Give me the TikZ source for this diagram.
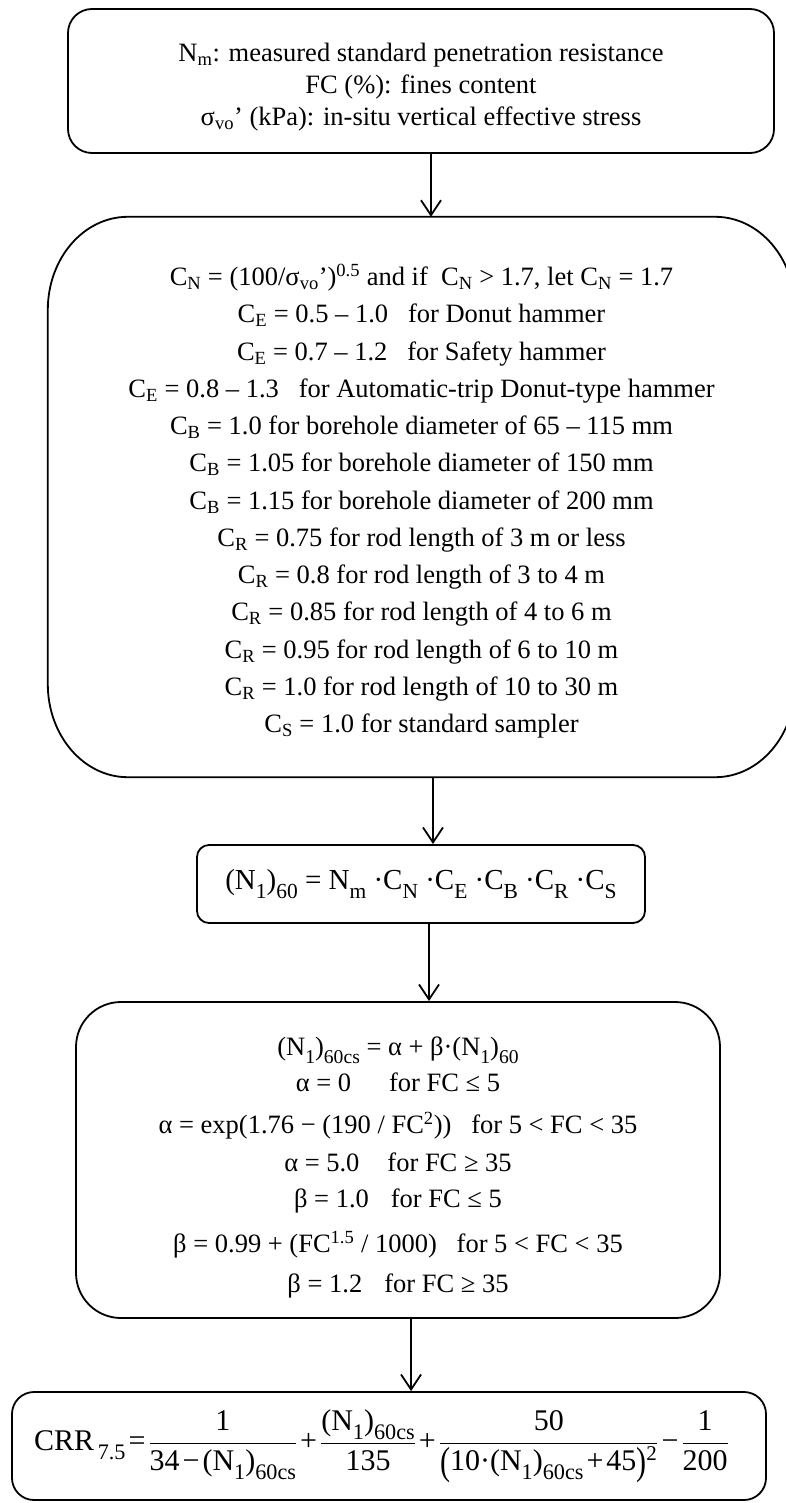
\documentclass[tikz,border=0pt]{standalone}
\usepackage{fix-cm}
\usepackage{fontspec}
\setmainfont{Liberation Serif}
\usepackage{graphicx}
\usetikzlibrary{arrows.meta}
\tikzset{
  box/.style={draw, line width=1.8pt, align=center, inner sep=0pt},
  link/.style={line width=1.8pt, -{Straight Barb[length=15pt,width=20pt,line width=1.8pt]}}
}
\newcommand\sbs[1]{\textsubscript{#1}}
\newcommand\sps[1]{\textsuperscript{#1}}
\newcommand\lsb[1]{\raisebox{-0.3em}{\scalebox{0.74}{#1}}}
\newcommand\fr[2]{\frac{\mbox{#1}}{\mbox{#2}}}
\newcommand\op[1]{\hspace{3pt}#1\hspace{3pt}}
\newcommand\bigpar[1]{\raisebox{-0.12em}{\scalebox{1}[1.3]{#1}}}
\begin{document}
\begin{tikzpicture}[x=1pt,y=-1pt]
\useasboundingbox (0,0) rectangle (786,1503);

\node[box, rounded corners=24pt, minimum width=706pt, minimum height=144pt,
  font=\fontsize{26.5}{32}\selectfont] (b1) at (421,81)
  {\rule{0pt}{31pt}N\sbs{m}: measured standard penetration resistance\\
   FC (\%): fines content\\
   σ\sbs{vo}’ (kPa): in-situ vertical effective stress};

\node[align=center, inner sep=0pt, minimum width=747pt, minimum height=560pt,
  font=\fontsize{26.5}{37.25}\selectfont] (b2) at (421.5,497)
  {\rule{0pt}{30pt}C\sbs{N} = (100/σ\sbs{vo}’)\sps{0.5} and if\ \ C\sbs{N} > 1.7, let C\sbs{N} = 1.7\\
   C\sbs{E} = 0.5 – 1.0\ \ \ for Donut hammer\\
   C\sbs{E} = 0.7 – 1.2\ \ \ for Safety hammer\\
   C\sbs{E} = 0.8 – 1.3\ \ \ for Automatic-trip Donut-type hammer\\
   C\sbs{B} = 1.0 for borehole diameter of 65 – 115 mm\\
   C\sbs{B} = 1.05 for borehole diameter of 150 mm\\
   C\sbs{B} = 1.15 for borehole diameter of 200 mm\\
   C\sbs{R} = 0.75 for rod length of 3 m or less\\
   C\sbs{R} = 0.8 for rod length of 3 to 4 m\\
   C\sbs{R} = 0.85 for rod length of 4 to 6 m\\
   C\sbs{R} = 0.95 for rod length of 6 to 10 m\\
   C\sbs{R} = 1.0 for rod length of 10 to 30 m\\
   C\sbs{S} = 1.0 for standard sampler};
\draw[line width=1.8pt]
  ([xshift=80pt]b2.north west) -- ([xshift=-80pt]b2.north east)
  arc[start angle=90, end angle=0, x radius=80pt, y radius=93pt]
  -- ([yshift=93pt]b2.south east)
  arc[start angle=0, end angle=-90, x radius=80pt, y radius=93pt]
  -- ([xshift=80pt]b2.south west)
  arc[start angle=270, end angle=180, x radius=80pt, y radius=93pt]
  -- ([yshift=-93pt]b2.north west)
  arc[start angle=180, end angle=90, x radius=80pt, y radius=93pt]
  -- cycle;

\node[box, rounded corners=12pt, minimum width=448pt, minimum height=78pt,
  font=\fontsize{29}{32}\selectfont] (b3) at (421,884)
  {(N\lsb{1})\lsb{60} = N\lsb{m} ·C\lsb{N} ·C\lsb{E} ·C\lsb{B} ·C\lsb{R} ·C\lsb{S}};

\node[box, rounded corners=45pt, minimum width=644pt, minimum height=316pt,
  font=\fontsize{26.5}{36}\selectfont] (b4) at (398,1160)
  {\rule{0pt}{34pt}(N\lsb{1})\lsb{60cs} = α + β·(N\lsb{1})\lsb{60}\\
   α = 0\hspace{38pt}for FC ≤ 5\\[6pt]
   α = exp(1.76 − (190 / FC\sps{2}))\ \ \ for 5 < FC < 35\\[2pt]
   α = 5.0\hspace{28pt}for FC ≥ 35\\
   β = 1.0\hspace{22pt}for FC ≤ 5\\[9pt]
   β = 0.99 + (FC\sps{1.5} / 1000)\ \ \ for 5 < FC < 35\\[4pt]
   β = 1.2\hspace{22pt}for FC ≥ 35};

\node[box, rounded corners=22pt, minimum width=754pt, minimum height=108pt,
  font=\fontsize{30}{36}\selectfont] (b5) at (389,1446)
  {$\displaystyle \mbox{CRR\lsb{\,7.5}\op{=}}\fr{1}{34\op{−}(N\lsb{1})\lsb{60cs}}\mbox{\op{+}}\fr{(N\lsb{1})\lsb{60cs}}{135}\mbox{\op{+}}\fr{50}{\bigpar{(}10·(N\lsb{1})\lsb{60cs}\op{+}45\bigpar{)}\sps{2}}\mbox{\op{−}}\fr{1}{200}\mbox{\hspace{15pt}}$};

\coordinate (a1) at (431,0);
\coordinate (a2) at (433,0);
\coordinate (a3) at (429,0);
\coordinate (a4) at (411,0);
\draw[link] (b1.south -| a1) -- (b2.north -| a1);
\draw[link] (b2.south -| a2) -- (b3.north -| a2);
\draw[link] (b3.south -| a3) -- (b4.north -| a3);
\draw[link] (b4.south -| a4) -- (b5.north -| a4);
\end{tikzpicture}
\end{document}
